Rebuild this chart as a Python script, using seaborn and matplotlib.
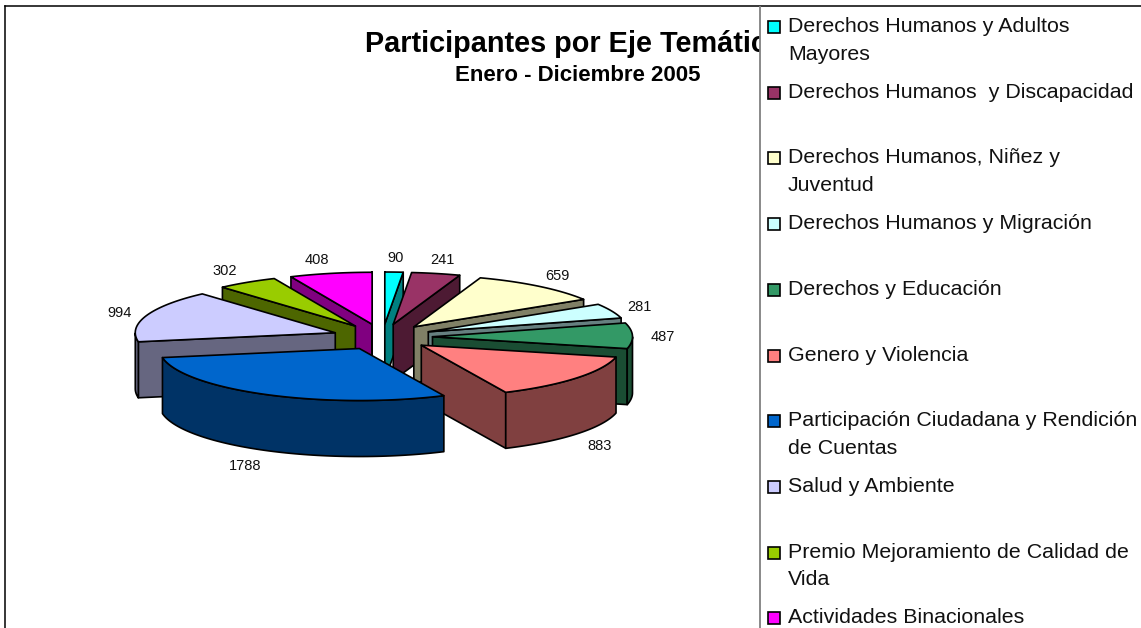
import numpy as np
import matplotlib
matplotlib.use("Agg")
import matplotlib.pyplot as plt
from matplotlib.patches import Rectangle
import seaborn as sns

# ---- data ----
categories = [
    "Derechos Humanos y Adultos\nMayores",
    "Derechos Humanos  y Discapacidad",
    "Derechos Humanos, Niñez y\nJuventud",
    "Derechos Humanos y Migración",
    "Derechos y Educación",
    "Genero y Violencia",
    "Participación Ciudadana y Rendición\nde Cuentas",
    "Salud y Ambiente",
    "Premio Mejoramiento de Calidad de\nVida",
    "Actividades Binacionales",
]
participants = [90, 241, 659, 281, 487, 883, 1788, 994, 302, 408]
colours = ["#00FFFF", "#993366", "#FFFFCC", "#CCFFFF", "#339966",
           "#FF8080", "#0066CC", "#CCCCFF", "#99CC00", "#FF00FF"]
title = "Participantes por Eje Temático"
subtitle = "Enero - Diciembre 2005"

# ---- layout ----
W, H = 1141, 628
CX, CY = 382.5, 337.0      # pie centre (pixels)
RX, RY = 200.0, 52.0       # projected radii
EXPLODE = 0.25             # explosion, in radii
DEPTH = 56.0               # wall height
LW = 1.2
label_nudge = [0, 0, 0, 0, 0, 0, -8, 2, -6, -8]  # small horizontal label shifts

sns.set_theme(style="white")
plt.rcParams["font.family"] = ["Liberation Sans", "DejaVu Sans"]

fig = plt.figure(figsize=(W / 100, H / 100), dpi=100, facecolor="white")
ax = fig.add_axes([5 / W, 0, 1 - 5 / W, 1 - 6 / H])
ax.set_xlim(5, W)
ax.set_ylim(H, 6)
ax.set_xticks([])
ax.set_yticks([])
sns.despine(ax=ax, top=False, left=False, right=True, bottom=True)
for s in ("top", "left"):
    ax.spines[s].set_color("black")
    ax.spines[s].set_linewidth(1.1)

palette = sns.color_palette(colours)
dark = [tuple(c * 0.5 for c in col) for col in palette]

vals = np.asarray(participants, float)
edges = np.r_[0, np.cumsum(vals)] / vals.sum() * 2 * np.pi
mids = (edges[:-1] + edges[1:]) / 2


def project(theta, r=1.0, mid=0.0, drop=0.0):
    x = CX + RX * (EXPLODE * np.sin(mid) + r * np.sin(theta))
    y = CY - RY * (EXPLODE * np.cos(mid) + r * np.cos(theta)) + drop
    return x, y


def poly(xs, ys, colour, z):
    ax.fill(xs, ys, facecolor=colour, edgecolor="black", linewidth=LW,
            joinstyle="round", zorder=z)


order = np.argsort(-np.cos(mids))
for rank, i in enumerate(order):
    a, b, m = edges[i], edges[i + 1], mids[i]
    z = 2 + rank * 0.01
    ax_, ay_ = project(0.0, r=0.0, mid=m)
    # radial cut walls that face the viewer
    for ang, normal in ((a, a - np.pi / 2), (b, b + np.pi / 2)):
        if np.cos(normal) < 0.02:
            ex, ey = project(ang, mid=m)
            poly([ax_, ex, ex, ax_], [ay_, ey, ey + DEPTH, ay_ + DEPTH], dark[i], z)
    # curved outer wall (front-facing part only)
    th = np.linspace(a, b, 80)
    th = th[np.cos(th) <= 0]
    if th.size > 1:
        x, y = project(th, mid=m)
        poly(np.r_[x, x[::-1]], np.r_[y, y[::-1] + DEPTH], dark[i], z)
    # top face
    th = np.linspace(a, b, 80)
    x, y = project(th, mid=m)
    poly(np.r_[ax_, x], np.r_[ay_, y], palette[i], z + 0.001)

# value labels
for v, m, dx in zip(participants, mids, label_nudge):
    lx = CX + RX * 1.4 * np.sin(m) + dx
    ly = CY + 2 - RY * 1.55 * np.cos(m) + (DEPTH if np.cos(m) < -0.1 else 0)
    ax.text(lx, ly, str(v), ha="center", va="center", fontsize=10.5,
            color="#111111", zorder=3)

# titles (the legend panel covers the end of the title, as in the reference)
ax.text(365, 44, title, ha="left", va="center", fontsize=20.8,
        fontweight="bold", color="black", zorder=3)
ax.text(577.5, 75, subtitle, ha="center", va="center", fontsize=16,
        fontweight="bold", color="black", zorder=3)

# legend panel
ax.add_patch(Rectangle((760, 7.5), W - 760, H, facecolor="white",
                       edgecolor="none", zorder=4))
ax.plot([760, 760], [6, H], color="#808080", linewidth=1.3, zorder=5)
STEP = 65.7
for i, (name, col) in enumerate(zip(categories, palette)):
    y = 26 + i * STEP
    ax.add_patch(Rectangle((768, y - 5), 12, 12, facecolor=col, edgecolor="black",
                           linewidth=LW, zorder=5))
    ax.text(788, y - 9, name, ha="left", va="top", fontsize=15.4,
            linespacing=1.57, color="#111111", zorder=5)

fig.savefig("out.png", dpi=100)
